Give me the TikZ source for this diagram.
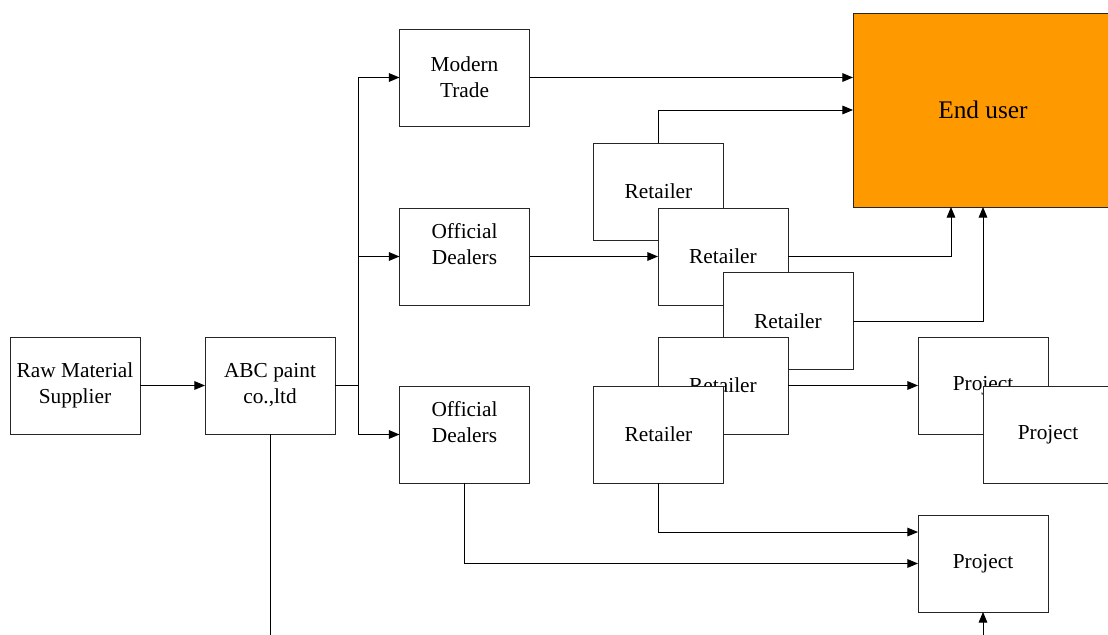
\documentclass[tikz,border=0pt]{standalone}
\usepackage{fontspec}
\setmainfont{Liberation Serif}
\usepackage{xcolor}
\usetikzlibrary{arrows.meta, positioning}

\definecolor{enduserorange}{RGB}{255,153,0}

\begin{document}
\begin{tikzpicture}[
  x=0.75pt, y=-0.75pt,
  box/.style={rectangle, draw=black!85, fill=white, line width=0.7pt, minimum width=97.5pt, minimum height=72.75pt, inner sep=0pt, outer sep=0pt, align=center, font=\fontsize{16}{19.5}\selectfont},
  userbox/.style={box, fill=enduserorange, minimum width=195pt, minimum height=145.5pt, font=\fontsize{19}{23}\selectfont},
  arrow/.style={-{Triangle[length=8pt, width=6.5pt]}, line width=0.7pt},
  link/.style={line width=0.7pt}
]
  \useasboundingbox (0,0) rectangle (1108,635);
  \clip (0,0) rectangle (1108,635);

  \node[box] (raw) at (75,385.5) {Raw Material\\Supplier};
  \node[box, right=48.75pt of raw] (abc) {ABC paint\\co.,ltd};
  \node[box] (trade) at (464.5,77.5) {Modern\\Trade};
  \node[box] (dealer1) at (464.5,256.5) {Official\\Dealers\\\mbox{}};
  \node[box] (dealer2) at (464.5,434.5) {Official\\Dealers\\\mbox{}};
  \node[userbox] (user) at (983,110) {End user};
  \node[box] (retail1) at (658.5,191.5) {Retailer};
  \node[box] (retail2) at (723,256.5) {Retailer};
  \node[box] (retail3) at (788,321) {Retailer};
  \node[box] (retail4) at (723,385.5) {Retailer};
  \node[box] (retail5) at (658.5,434.5) {Retailer};
  \node[box] (project1) at (983,385.5) {Project};
  \node[box] (project2) at (1048,434.5) {Project};
  \node[box] (project3) at (983,563.5) {Project};

  \coordinate (split) at (358,385.5);
  \coordinate (bottom) at (0,640);

  \draw[arrow] (raw) -- (abc);
  \draw[link] (abc) -- (split);
  \draw[arrow] (split) |- (trade.west);
  \draw[arrow] (split) |- (dealer1.west);
  \draw[arrow] (split) |- (dealer2.west);
  \draw[arrow] (trade.east) -- (trade.east -| user.west);
  \draw[arrow] (retail1.north) |- (user.west);
  \draw[arrow] (dealer1) -- (retail2);
  \draw[arrow] (retail2.east) -| ([xshift=-24pt]user.south);
  \draw[arrow] (retail3.east) -| (user.south);
  \draw[arrow] (retail4) -- (project1);
  \draw[arrow] (retail5.south) |- ([yshift=23.6pt]project3.west);
  \draw[arrow] (dealer2.south) |- (project3.west);
  \draw[link] (abc.south) -- (abc.south |- bottom);
  \draw[arrow] (project3.south |- bottom) -- (project3.south);
\end{tikzpicture}
\end{document}
